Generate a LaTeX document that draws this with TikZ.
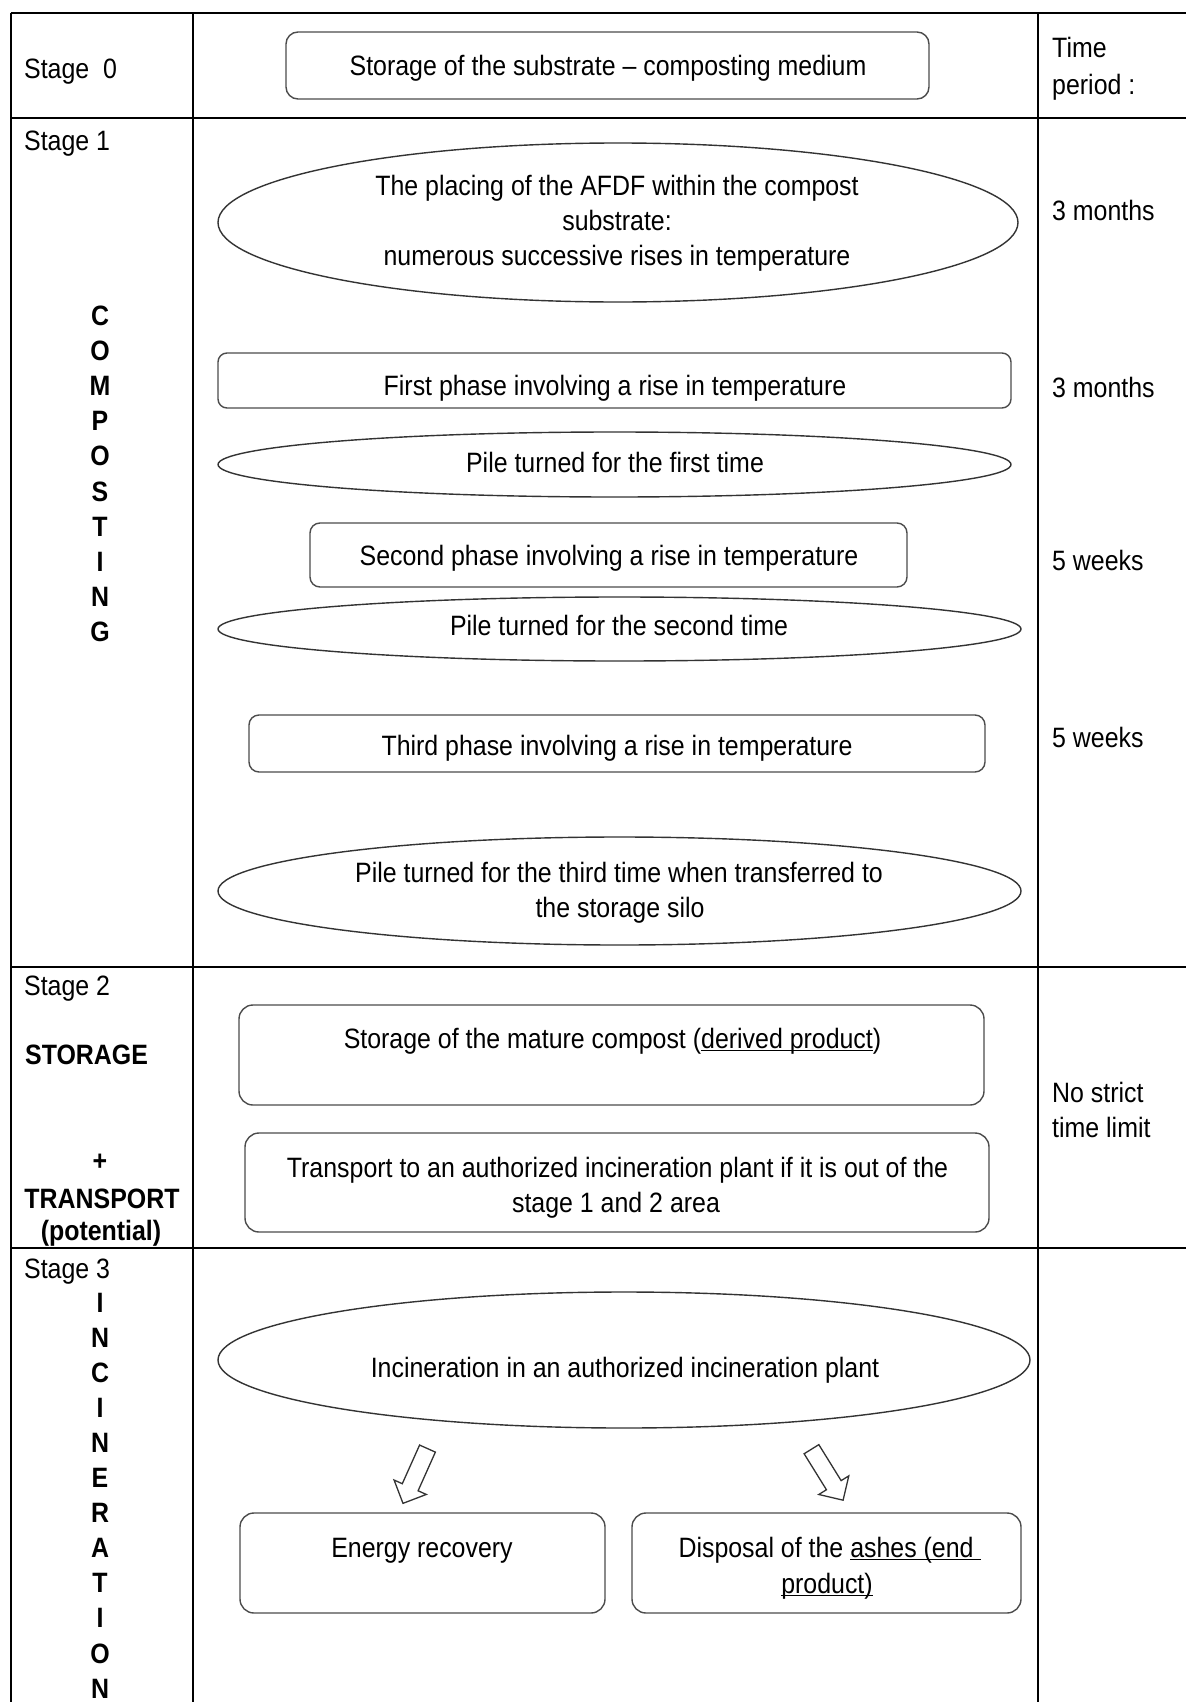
\documentclass[tikz,border=0pt]{standalone}
\usepackage{fontspec}
\setmainfont{Liberation Sans}[FakeStretch=0.89]
\usetikzlibrary{shapes.geometric,shapes.arrows}
\newcommand{\myul}[1]{\sbox0{#1}\leavevmode\rlap{\rule[-3pt]{\wd0}{1.5pt}}\usebox0}
\begin{document}
\begin{tikzpicture}[x=1pt,y=-1pt,
  tline/.style={line width=2pt,black},
  rbox/.style={draw=black!70,line width=1.4pt,rounded corners=12pt,rectangle,inner sep=0pt},
  ell/.style={draw=black!80,line width=1.4pt,ellipse,inner sep=0pt},
  txt/.style={font=\fontsize{28}{35}\selectfont,inner sep=0pt,anchor=base},
  ltxt/.style={txt,anchor=base west},
  btxt/.style={txt,font=\fontsize{28}{35}\selectfont\bfseries},
  barrow/.style={single arrow,draw=black!80,line width=1.3pt,inner xsep=0pt,inner ysep=8pt,single arrow head extend=9pt,minimum height=60pt}
]
\useasboundingbox (0,0) rectangle (1186,1702);
\fill[white] (0,0) rectangle (1186,1702);
% table
\draw[tline] (10.5,13) -- (1186,13);
\draw[tline] (10.5,118) -- (1186,118);
\draw[tline] (10.5,967) -- (1186,967);
\draw[tline] (10.5,1248) -- (1186,1248);
\draw[tline] (10.5,13) -- (10.5,1702);
\draw[tline] (193,13) -- (193,1702);
\draw[tline] (1038,13) -- (1038,1702);
% left column
\node[ltxt] (st0) at (24,78) {Stage\ \ 0};
\node[ltxt] (st1) at (24,150) {Stage 1};
\foreach \L [count=\i from 0] in {C,O,M,P,O,S,T,I,N,G}
  \node[btxt] (comp\i) at (100,{325+35.2*\i}) {\L};
\node[ltxt] (st2) at (24,995) {Stage 2};
\node[btxt,anchor=base west] (stor) at (25,1064) {STORAGE};
\node[btxt] (plus) at (100,1170) {+};
\node[btxt] (trans) at (102,1208) {TRANSPORT};
\node[btxt] (pot) at (101,1240) {(potential)};
\node[ltxt] (st3) at (24,1278) {Stage 3};
\foreach \L [count=\i from 0] in {I,N,C,I,N,E,R,A,T,I,O,N}
  \node[btxt] (inc\i) at (100,{1312+35.1*\i}) {\L};
% right column
\node[ltxt] (tp1) at (1052,58) {Time};
\node[ltxt] (tp2) at (1052,95) {period :};
\node[ltxt] (d1) at (1052,220) {3 months};
\node[ltxt] (d2) at (1052,397) {3 months};
\node[ltxt] (d3) at (1052,570) {5 weeks};
\node[ltxt] (d4) at (1052,747) {5 weeks};
\node[ltxt] (d5a) at (1052,1102) {No strict};
\node[ltxt] (d5b) at (1052,1137) {time limit};
% middle shapes
\node[rbox,minimum width=643pt,minimum height=67pt] (s0) at (607.5,65.5) {};
\node[txt] (s0t) at (608,75) {Storage of the substrate -- composting medium};

\node[ell,minimum width=800pt,minimum height=159pt] (e1) at (618,222.5) {};
\node[txt] (e1a) at (617,195) {The placing of the AFDF within the compost};
\node[txt] (e1b) at (617,230) {substrate:};
\node[txt] (e1c) at (617,265) {numerous successive rises in temperature};

\node[rbox,rounded corners=9pt,minimum width=793pt,minimum height=55pt] (b1) at (614.5,380.5) {};
\node[txt] (b1t) at (615,395) {First phase involving a rise in temperature};

\node[ell,minimum width=793pt,minimum height=65pt] (e2) at (614.5,464.5) {};
\node[txt] (e2t) at (615,472) {Pile turned for the first time};

\node[rbox,rounded corners=10pt,minimum width=597pt,minimum height=64pt] (b2) at (608.5,555) {};
\node[txt] (b2t) at (609,565) {Second phase involving a rise in temperature};

\node[ell,minimum width=803pt,minimum height=64pt] (e3) at (619.5,629) {};
\node[txt] (e3t) at (619,635) {Pile turned for the second time};

\node[rbox,rounded corners=10pt,minimum width=736pt,minimum height=57pt] (b3) at (617,743.5) {};
\node[txt] (b3t) at (617,755) {Third phase involving a rise in temperature};

\node[ell,minimum width=803pt,minimum height=108pt] (e4) at (619.5,891) {};
\node[txt] (e4a) at (619,882) {Pile turned for the third time when transferred to};
\node[txt] (e4b) at (620,917) {the storage silo};

\node[rbox,rounded corners=14pt,minimum width=745pt,minimum height=100pt] (b4) at (611.5,1055) {};
\node[txt] (b4t) at (612.5,1048) {Storage of the mature compost (\myul{derived product})};

\node[rbox,rounded corners=14pt,minimum width=744pt,minimum height=99pt] (b5) at (617,1182.5) {};
\node[txt] (b5a) at (617.5,1177) {Transport to an authorized incineration plant if it is out of the};
\node[txt] (b5b) at (616,1212) {stage 1 and 2 area};

\node[ell,minimum width=812pt,minimum height=136pt] (e5) at (624,1360) {};
\node[txt] (e5t) at (625,1377) {Incineration in an authorized incineration plant};

\node[barrow,rotate=245.9] (arrL) at (417,1472) {};
\node[barrow,rotate=-58.2] (arrR) at (825,1471) {};

\node[rbox,rounded corners=14pt,minimum width=365pt,minimum height=100pt] (b6) at (422.5,1563) {};
\node[txt] (b6t) at (422,1557) {Energy recovery};

\node[rbox,rounded corners=14pt,minimum width=389pt,minimum height=100pt] (b7) at (826.5,1563) {};
\node[txt] (b7a) at (829.5,1557) {Disposal of the \myul{ashes (end\ }};
\node[txt] (b7b) at (827,1593) {\myul{product)}};
\end{tikzpicture}
\end{document}
